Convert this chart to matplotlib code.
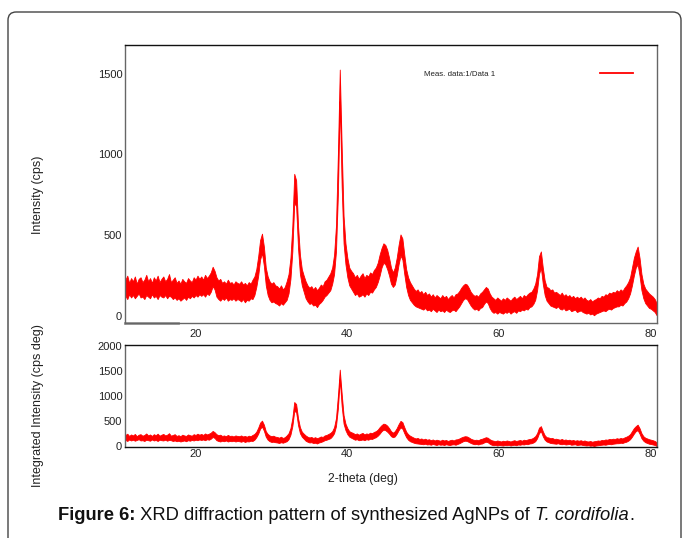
import matplotlib
matplotlib.use("Agg")
import matplotlib.pyplot as plt
from matplotlib.patches import FancyBboxPatch
import numpy as np

plt.rcParams['font.family'] = ['Liberation Sans', 'DejaVu Sans']

# scan: 2-theta from 10.8 to 80.8 deg in 0.25 deg steps
scan_start, scan_step, scan_points = 10.8, 0.25, 281

# lower / upper edge of the noisy trace (cps), 20 values per 5 deg
intensity_high = [
    225, 250, 205, 235, 215, 245, 200, 230, 240, 210, 225, 255, 215, 235, 205, 240, 220, 250, 210, 230,
    245, 215, 230, 260, 210, 225, 240, 205, 220, 200, 230, 215, 205, 235, 220, 210, 240, 225, 250, 230,
    245, 225, 255, 235, 250, 270, 305, 280, 240, 220, 230, 205, 215, 200, 225, 205, 210, 195, 215, 205,
    200, 215, 195, 205, 190, 210, 200, 225, 245, 290, 370, 470, 510, 430, 300, 245, 215, 200, 210, 190,
    185, 170, 190, 165, 180, 215, 260, 360, 560, 880, 840, 560, 380, 290, 250, 215, 190, 175, 185, 165,
    180, 160, 175, 195, 185, 215, 225, 245, 265, 300, 380, 560, 1000, 1525, 1050, 620, 450, 360, 300, 280,
    265, 240, 255, 230, 250, 265, 235, 255, 245, 270, 260, 285, 300, 330, 380, 420, 450, 440, 410, 360,
    300, 270, 300, 360, 440, 505, 480, 380, 290, 240, 210, 190, 170, 155, 165, 145, 155, 135, 150, 130,
    140, 120, 135, 115, 130, 120, 110, 130, 115, 125, 105, 120, 130, 115, 135, 140, 155, 175, 190, 200,
    195, 175, 150, 135, 125, 130, 120, 140, 150, 165, 180, 170, 140, 120, 110, 100, 115, 105, 95, 110,
    100, 115, 105, 95, 110, 120, 105, 115, 125, 110, 130, 120, 135, 145, 150, 170, 200, 260, 370, 400,
    300, 220, 180, 175, 160, 165, 145, 150, 140, 130, 145, 125, 135, 120, 130, 115, 125, 110, 120, 110,
    120, 105, 115, 100, 95, 105, 90, 100, 105, 115, 110, 125, 120, 135, 130, 145, 140, 150, 145, 160,
    150, 165, 155, 175, 190, 210, 240, 300, 360, 400, 430, 360, 260, 200, 170, 155, 140, 130, 120, 105,
    80]
intensity_low = [
    125, 105, 135, 115, 130, 110, 125, 140, 115, 120, 105, 130, 120, 110, 135, 115, 125, 105, 130, 120,
    115, 130, 110, 125, 120, 105, 115, 100, 110, 95, 105, 115, 100, 120, 110, 125, 115, 130, 120, 135,
    125, 135, 120, 140, 130, 150, 185, 165, 120, 105, 95, 110, 100, 115, 95, 105, 100, 110, 95, 105,
    100, 90, 105, 85, 100, 95, 110, 105, 130, 180, 250, 350, 390, 310, 190, 130, 100, 85, 90, 80,
    75, 65, 80, 70, 85, 100, 140, 230, 400, 700, 680, 420, 260, 190, 150, 110, 90, 75, 80, 65,
    70, 55, 75, 85, 100, 120, 130, 145, 160, 200, 260, 400, 750, 1330, 800, 450, 320, 240, 190, 170,
    150, 130, 140, 120, 125, 135, 120, 140, 130, 150, 145, 165, 180, 210, 250, 300, 330, 320, 290, 250,
    200, 180, 195, 250, 320, 375, 350, 260, 180, 130, 100, 85, 70, 60, 55, 50, 45, 40, 50, 35,
    40, 30, 45, 35, 25, 40, 30, 35, 25, 40, 30, 25, 35, 40, 30, 45, 60, 80, 100, 110,
    105, 85, 65, 50, 40, 45, 35, 50, 55, 75, 90, 80, 50, 30, 20, 25, 15, 25, 20, 15,
    25, 20, 30, 15, 25, 30, 20, 35, 30, 40, 35, 45, 40, 55, 60, 75, 100, 160, 260, 300,
    200, 130, 95, 80, 65, 60, 55, 50, 60, 45, 40, 50, 35, 40, 45, 30, 35, 40, 25, 30,
    35, 25, 20, 15, 20, 10, 15, 5, 15, 20, 25, 30, 35, 30, 40, 45, 40, 50, 55, 60,
    60, 70, 65, 80, 90, 110, 140, 190, 250, 300, 320, 250, 160, 110, 80, 65, 50, 45, 35, 25,
    5]

x_ticks = [20, 40, 60, 80]
top_yticks = [0, 500, 1000, 1500]
bottom_yticks = [0, 500, 1000, 1500, 2000]

two_theta = scan_start + scan_step * np.arange(scan_points)

RED = '#ff0000'
W, H = 683, 538
fig = plt.figure(figsize=(W / 100, H / 100), dpi=100)

def frac(x0, y0, x1, y1):
    return [x0 / W, 1 - y1 / H, (x1 - x0) / W, (y1 - y0) / H]

# rounded border
border = FancyBboxPatch((8 / W, -0.05), (681 - 8) / W, 1 - 12 / H + 0.05,
                        boxstyle="round,pad=0,rounding_size=0.012",
                        transform=fig.transFigure, fill=False, edgecolor='#444444',
                        linewidth=1.0, mutation_aspect=W / H)
fig.patches.append(border)

ax1 = fig.add_axes(frac(125, 45, 657, 323))
ax2 = fig.add_axes(frac(125, 345, 657, 446.5))

for ax in (ax1, ax2):
    ax.fill_between(two_theta, intensity_low, intensity_high, color=RED, linewidth=0.6,
                    edgecolor=RED)
    ax.set_xlim(10.75, 80.85)
    ax.set_xticks(x_ticks)
    ax.tick_params(axis='both', length=0, labelsize=8, colors='#222222')
    for s in ax.spines.values():
        s.set_color('#666666')
        s.set_linewidth(1.0)
    ax.spines['top'].set_color('#111111')

ax1.set_ylim(-43, 1677)
ax1.set_yticks(top_yticks)
ax1.tick_params(axis='x', pad=4)
ax1.tick_params(axis='y', pad=2)
ax1.plot([0, 0.1], [0, 0], transform=ax1.transAxes, color='#999999', lw=2, clip_on=False)

ax2.set_ylim(-5, 2015)
ax2.set_yticks(bottom_yticks)
ax2.tick_params(axis='x', pad=1.5)
ax2.tick_params(axis='y', pad=2)
ax2.spines['bottom'].set_color('#111111')

# legend-like label
fig.text(424 / W, 1 - 74 / H, 'Meas. data:1/Data 1', fontsize=5.7, color='#222222',
         va='center', ha='left')
fig.add_artist(plt.Line2D([600 / W, 633 / W], [1 - 73 / H, 1 - 73 / H], color=RED, lw=1.3))

fig.text(38 / W, 1 - 195 / H, 'Intensity (cps)', rotation=90, fontsize=9,
         ha='center', va='center', color='#222222')
fig.text(38 / W, 1 - 406 / H, 'Integrated Intensity (cps deg)', rotation=90, fontsize=9,
         ha='center', va='center', color='#222222')
fig.text(363 / W, 1 - 479 / H, '2-theta (deg)', fontsize=8.7, ha='center', va='center',
         color='#222222')

# caption with mixed styles
renderer = fig.canvas.get_renderer()
parts = [('Figure 6:', 'bold', 'normal'),
         (' XRD diffraction pattern of synthesized AgNPs of ', 'normal', 'normal'),
         ('T. cordifolia', 'normal', 'italic'),
         ('.', 'normal', 'normal')]
xpos = 58
cap_y = 1 - 516 / H
for txt, weight, style in parts:
    t = fig.text(xpos / W, cap_y, txt, fontsize=13.2, fontweight=weight, fontstyle=style,
                 ha='left', va='center', color='#111111')
    bb = t.get_window_extent(renderer=renderer)
    xpos = bb.x1

fig.savefig('out.png', dpi=100)
